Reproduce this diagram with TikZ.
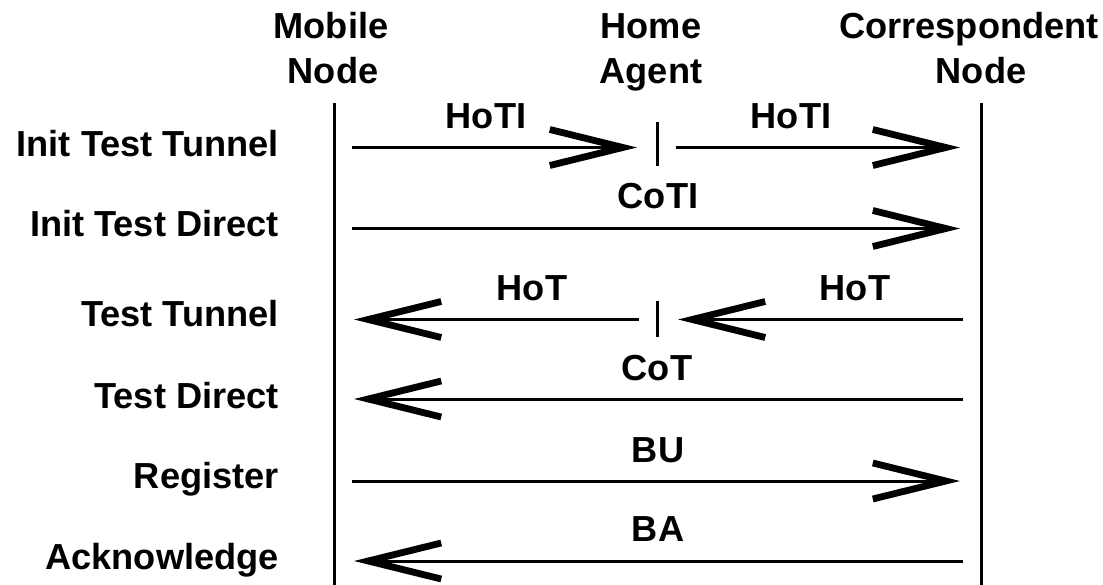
\documentclass[tikz,border=0pt]{standalone}
\usepackage{fontspec}
\setmainfont{Liberation Sans}
\usetikzlibrary{arrows.meta}
\begin{document}
\begin{tikzpicture}[x=1pt,y=-1pt,
  txt/.style={font=\bfseries\fontsize{36.2}{46}\selectfont, inner sep=0pt, anchor=base},
  rowlabel/.style={txt, anchor=base east},
  life/.style={line width=3pt},
  msg/.style={line width=3pt, -{Straight Barb[length=73pt,width=36pt,line width=6.8pt]}},
  tickmark/.style={line width=3pt}]
\path[use as bounding box] (0,0) rectangle (1103,585);

% headers
\node[txt] (mn1) at (331,38.5) {Mobile};
\node[txt] (mn2) at (333,84) {Node};
\node[txt] (ha1) at (651,38.5) {Home};
\node[txt] (ha2) at (651,84) {Agent};
\node[txt] (cn1) at (969,38.5) {Correspondent};
\node[txt] (cn2) at (981,84) {Node};

% lifelines
\coordinate (mtop) at (334,103);
\coordinate (mbot) at (334,585);
\coordinate (ctop) at (981.5,103);
\coordinate (cbot) at (981.5,585);
\draw[life] (mtop) -- (mbot);
\draw[life] (ctop) -- (cbot);

% row labels
\node[rowlabel] (l1) at (279,157) {Init Test Tunnel};
\node[rowlabel] (l2) at (279,236.7) {Init Test Direct};
\node[rowlabel] (l3) at (279,326.7) {Test Tunnel};
\node[rowlabel] (l4) at (279,408) {Test Direct};
\node[rowlabel] (l5) at (279,488.3) {Register};
\node[rowlabel] (l6) at (279,569) {Acknowledge};

% row 1: HoTI via home agent
\coordinate (a1s) at (352,147.5);
\coordinate (a1t) at (637,147.5);
\coordinate (k1a) at (657,122);
\coordinate (k1b) at (657,166);
\coordinate (b1s) at (676,147.5);
\coordinate (b1t) at (960,147.5);
\draw[msg] (a1s) -- (a1t);
\draw[tickmark] (k1a) -- (k1b);
\draw[msg] (b1s) -- (b1t);
\node[txt] (m1a) at (486,128.3) {HoTI};
\node[txt] (m1b) at (791,128.3) {HoTI};

% row 2: CoTI
\coordinate (a2s) at (352,228.5);
\coordinate (a2t) at (960,228.5);
\draw[msg] (a2s) -- (a2t);
\node[txt] (m2) at (658,209) {CoTI};

% row 3: HoT via home agent
\coordinate (a3s) at (963,319.5);
\coordinate (a3t) at (678,319.5);
\coordinate (k3a) at (657,301);
\coordinate (k3b) at (657,337);
\coordinate (b3s) at (639,319.5);
\coordinate (b3t) at (354,319.5);
\draw[msg] (a3s) -- (a3t);
\draw[tickmark] (k3a) -- (k3b);
\draw[msg] (b3s) -- (b3t);
\node[txt] (m3a) at (532,300.7) {HoT};
\node[txt] (m3b) at (855,300.7) {HoT};

% row 4: CoT
\coordinate (a4s) at (963,399);
\coordinate (a4t) at (354,399);
\draw[msg] (a4s) -- (a4t);
\node[txt] (m4) at (657,380) {CoT};

% row 5: BU
\coordinate (a5s) at (352,481);
\coordinate (a5t) at (960,481);
\draw[msg] (a5s) -- (a5t);
\node[txt] (m5) at (658,462.3) {BU};

% row 6: BA
\coordinate (a6s) at (963,561);
\coordinate (a6t) at (354,561);
\draw[msg] (a6s) -- (a6t);
\node[txt] (m6) at (658,541.7) {BA};
\end{tikzpicture}
\end{document}
